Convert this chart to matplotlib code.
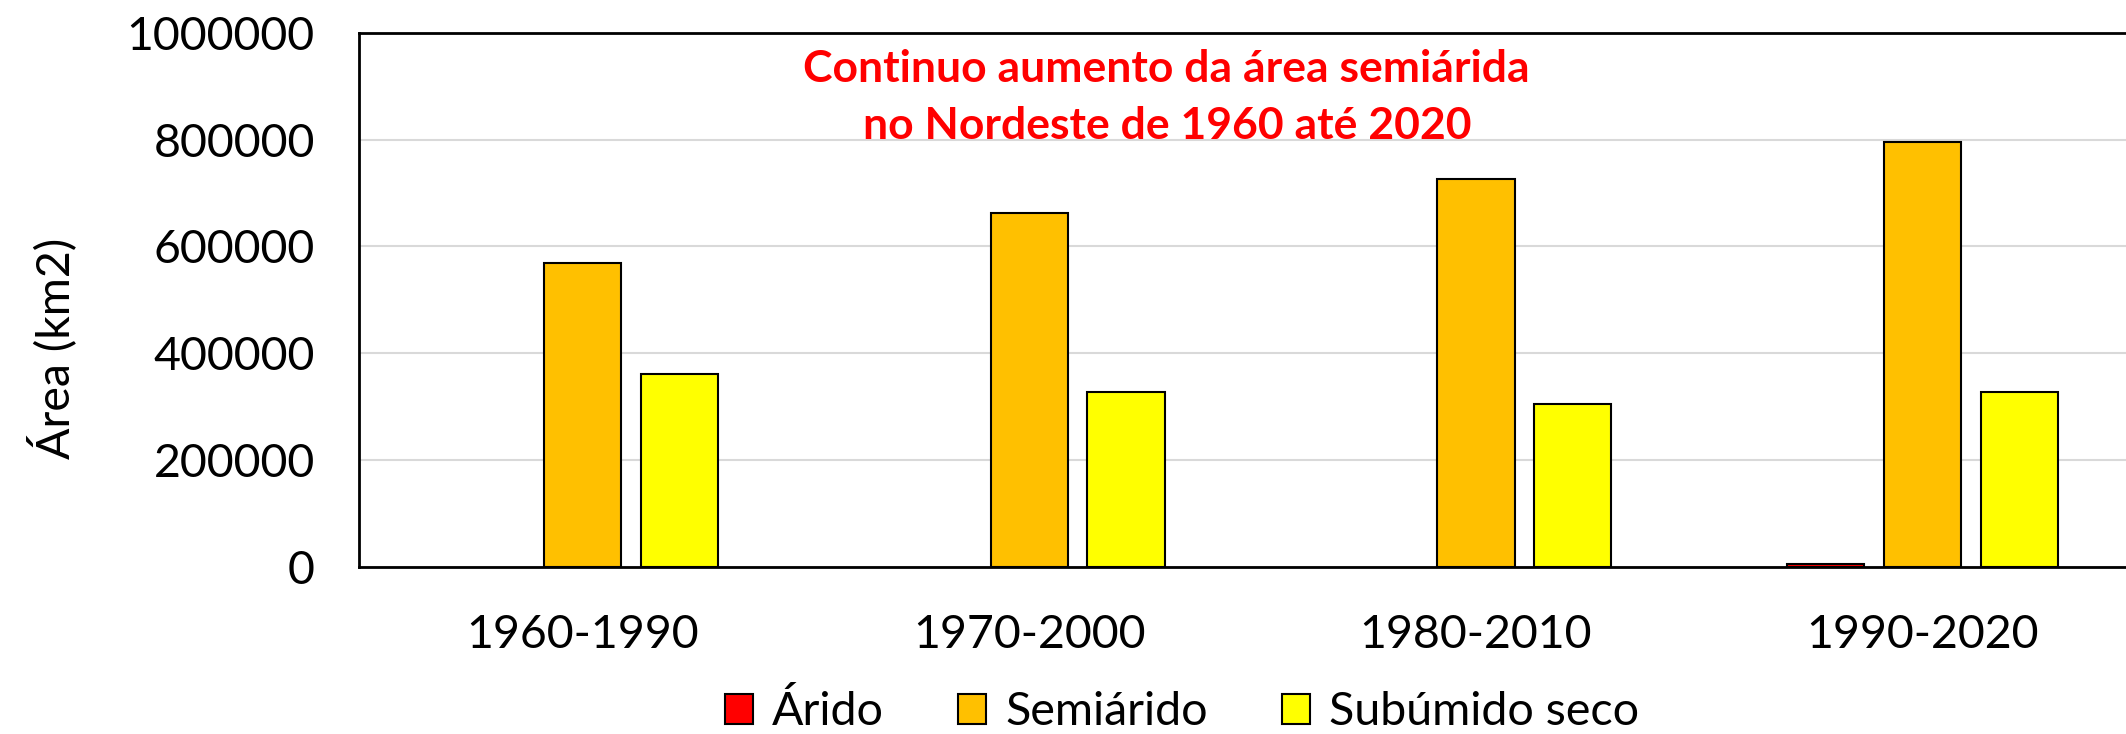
import matplotlib
matplotlib.use("Agg")
import matplotlib.pyplot as plt
import numpy as np

plt.rcParams['font.family'] = ['Lato', 'DejaVu Sans']

periodos = ['1960-1990', '1970-2000', '1980-2010', '1990-2020']
arido = [0, 0, 0, 4000]
semiarido = [568000, 662000, 727000, 796000]
subumido = [361000, 328000, 305000, 328000]

series = [('Árido', arido, '#FF0000'),
          ('Semiárido', semiarido, '#FFC000'),
          ('Subúmido seco', subumido, '#FFFF00')]

fig = plt.figure(figsize=(21.26, 7.34), dpi=100)
ax = fig.add_axes([0.1689, 0.2282, 0.8405, 0.7268])

x = np.arange(len(periodos))
largura = 0.173
passo = 0.217
for i, (nome, vals, cor) in enumerate(series):
    barras = ax.bar(x + (i - 1) * passo, vals, largura, color=cor, edgecolor='black',
                    linewidth=1.5, label=nome, zorder=3)
    # barras de valor zero não devem deixar contorno sobre o eixo
    for b, v in zip(barras, vals):
        if v == 0:
            b.set_linewidth(0)

ax.set_xlim(-0.5, 3.5)
ax.set_ylim(0, 1000000)
ax.set_yticks(np.arange(0, 1000001, 200000))
ax.set_yticklabels([str(v) for v in range(0, 1000001, 200000)])
ax.set_xticks(x)
ax.set_xticklabels(periodos)
ax.tick_params(axis='both', length=0, labelsize=33.5)
ax.tick_params(axis='y', pad=32)
ax.tick_params(axis='x', pad=34)
ax.grid(axis='y', color='#D9D9D9', linewidth=1.5, zorder=0)
for s in ['left', 'bottom', 'top']:
    ax.spines[s].set_linewidth(2)
ax.spines['right'].set_visible(False)

fig.text(52 / 2126, 1 - 348 / 734, 'Área (km2)', rotation=90, fontsize=33.5,
         ha='center', va='center')

ax.text(0.452, 0.932, 'Continuo aumento da área semiárida',
        transform=ax.transAxes, ha='center', va='center', color='#FF0000',
        fontsize=32, fontweight='bold')
ax.text(0.452, 0.8255, 'no Nordeste de 1960 até 2020',
        transform=ax.transAxes, ha='center', va='center', color='#FF0000',
        fontsize=32, fontweight='bold')

leg = fig.legend(loc='center', bbox_to_anchor=(0.556, 0.03), ncol=3, frameon=False,
                 fontsize=33.5, handlelength=0.6, handleheight=0.6, handletextpad=0.4,
                 columnspacing=1.6, borderaxespad=0)
for h in leg.legend_handles:
    h.set_linewidth(1.5)

fig.savefig('out.png', dpi=100)
